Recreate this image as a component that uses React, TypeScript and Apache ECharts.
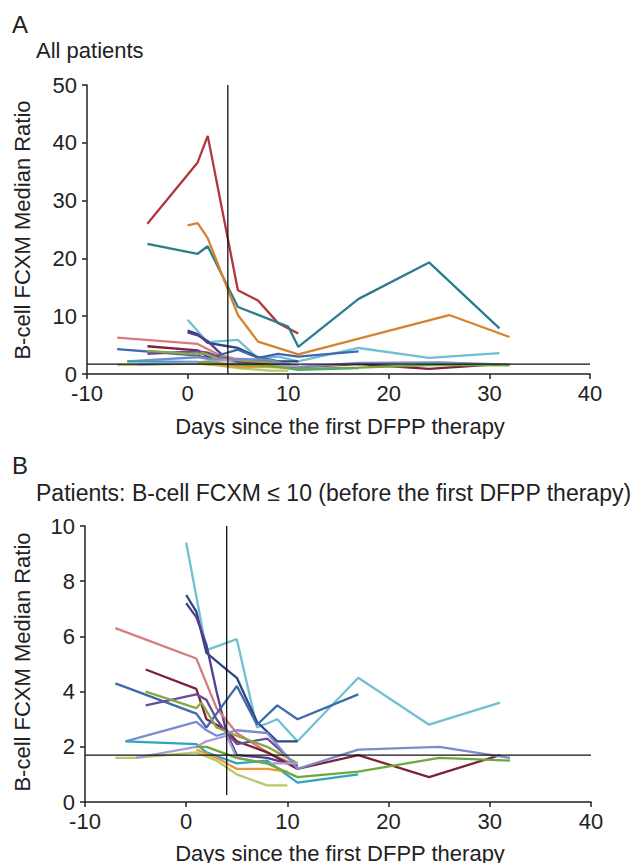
import React, { useEffect, useRef } from "react";
import * as echarts from "echarts";

// ---- data: [day since first DFPP, B-cell FCXM median ratio] ----
const lightCyan = [[0, 9.4], [2, 5.5], [5, 5.9], [7, 2.7], [9, 3.0], [11, 2.2], [17, 4.5], [24, 2.8], [31, 3.6]];
const navy = [[0, 7.5], [1, 6.9], [2, 5.4], [4, 4.8], [5, 4.5], [7, 2.9], [9, 2.2], [11, 2.2]];
const purpleDark = [[0, 7.2], [1, 6.7], [2, 5.7], [3, 4.0], [4, 2.5], [5, 1.7], [8, 1.6], [11, 1.3]];
const pink = [[-7, 6.3], [1, 5.2], [3, 3.4], [5, 2.5], [8, 1.8], [11, 1.3]];
const maroon = [[-4, 4.8], [1, 4.1], [2, 3.0], [4, 2.6], [5, 2.2], [8, 1.8], [11, 1.2], [17, 1.7], [24, 0.9], [31, 1.7]];
const blue = [[-7, 4.3], [1, 3.2], [2, 2.7], [3, 3.2], [5, 4.2], [7, 2.8], [9, 3.5], [11, 3.0], [17, 3.9]];
const purple = [[-4, 3.5], [1, 3.9], [2, 3.7], [3, 3.0], [4, 2.5], [5, 2.1], [8, 2.3], [11, 1.3]];
const olive = [[-4, 4.0], [1, 3.4], [1.5, 3.6], [2, 3.3], [3, 2.7], [5, 2.4], [8, 2.0], [11, 1.4]];
const periwinkle = [[-6, 2.2], [1, 2.9], [2, 2.6], [3, 2.4], [5, 2.6], [8, 2.5], [11, 1.2], [17, 1.9], [25, 2.0], [32, 1.6]];
const teal = [[-6, 2.2], [1, 2.1], [2, 1.8], [5, 1.4], [8, 1.5], [11, 0.7], [17, 1.0]];
const yellowGreen = [[-7, 1.6], [-5, 1.6], [1, 1.8], [3, 1.5], [5, 1.0], [8, 0.6], [10, 0.6]];
const lavender = [[-5, 1.6], [1, 2.0], [2, 2.2], [4, 2.4], [5, 1.6], [8, 1.4], [11, 1.4]];
const orange = [[1, 1.9], [3, 1.6], [5, 1.2], [8, 1.2], [10, 1.1]];
const green = [[1, 2.0], [2, 2.0], [5, 1.6], [8, 1.4], [11, 0.9], [17, 1.1], [25, 1.6], [32, 1.5]];
// patients above 10 before the first DFPP (panel A only)
const red = [[-4, 26], [1, 36.6], [2, 41.2], [5, 14.5], [7, 12.7], [9, 8.8], [11, 7.0]];
const darkTeal = [[-4, 22.5], [1, 20.8], [2, 22.1], [5, 11.6], [10, 8.2], [11, 4.7], [17, 13], [24, 19.3], [31, 7.9]];
const orangeBrown = [[0, 25.7], [1, 26.1], [2, 23.5], [5, 10.2], [7, 5.6], [11, 3.4], [26, 10.2], [32, 6.4]];

const lowPatients = [
  { data: lightCyan, color: "#72bfd4" },
  { data: navy, color: "#2f4684" },
  { data: purpleDark, color: "#553d91" },
  { data: pink, color: "#d67c7f" },
  { data: maroon, color: "#7d2436" },
  { data: blue, color: "#3d69ad" },
  { data: purple, color: "#6a4c9c" },
  { data: olive, color: "#8ba646" },
  { data: periwinkle, color: "#7c8bcd" },
  { data: teal, color: "#2fa4c0" },
  { data: yellowGreen, color: "#b5ca66" },
  { data: lavender, color: "#a99bd3" },
  { data: orange, color: "#e9993c" },
  { data: green, color: "#6fa83e" },
];
const highPatients = [
  { data: red, color: "#b5353e" },
  { data: darkTeal, color: "#2a7e8c" },
  { data: orangeBrown, color: "#d6832d" },
];

const cutDay = 4;
const cutRatio = 1.7;
const xRange = [-10, 40];
const yMaxA = 50;
const yMaxB = 10;

const titleA = "All patients";
const titleB = "Patients: B-cell FCXM \u2264 10 (before the first DFPP therapy)";
const xName = "Days since the first DFPP therapy";
const yName = "B-cell FCXM Median Ratio";

const FONT = "Liberation Sans, Arial, Helvetica, sans-serif";
const FS = 22;

export default function App() {
  const ref = useRef<HTMLDivElement>(null);
  useEffect(() => {
    const chart = echarts.init(ref.current!, null, { renderer: "svg" });
    const axisCommon = {
      axisLine: { show: true, onZero: false, lineStyle: { color: "#222", width: 1.5 } },
      axisTick: { show: true, length: 5, lineStyle: { color: "#222", width: 1.5 } },
      splitLine: { show: false },
      axisLabel: { color: "#222", fontSize: FS, fontFamily: FONT, margin: 10 },
    };
    const mkLine = (d: number[][], color: string, axis: number) => ({
      type: "line",
      xAxisIndex: axis,
      yAxisIndex: axis,
      data: d,
      showSymbol: false,
      symbol: "none",
      lineStyle: { color, width: 2.3 },
      silent: true,
    });
    const series: any[] = [];
    lowPatients.forEach((p) => series.push(mkLine(p.data, p.color, 0)));
    highPatients.forEach((p) => series.push(mkLine(p.data, p.color, 0)));
    lowPatients.forEach((p) => series.push(mkLine(p.data, p.color, 1)));
    // reference lines
    const refStyle = { color: "#111", width: 1.3 };
    series.push({ ...mkLine([[cutDay, 0], [cutDay, yMaxA]], "#111", 0), lineStyle: refStyle });
    series.push({ ...mkLine([[xRange[0], cutRatio], [xRange[1], cutRatio]], "#111", 0), lineStyle: refStyle });
    series.push({ ...mkLine([[cutDay, 0.25], [cutDay, yMaxB]], "#111", 1), lineStyle: refStyle });
    series.push({ ...mkLine([[xRange[0], cutRatio], [xRange[1], cutRatio]], "#111", 1), lineStyle: refStyle });

    const textStyle = (size: number) => ({ fill: "#222", fontSize: size, fontFamily: FONT });

    chart.setOption({
      animation: false,
      backgroundColor: "#fff",
      grid: [
        { left: 87, top: 85, width: 503, height: 289 },
        { left: 85, top: 526, width: 506, height: 276 },
      ],
      xAxis: [0, 1].map((i) => ({
        type: "value",
        gridIndex: i,
        min: xRange[0],
        max: xRange[1],
        interval: 10,
        ...axisCommon,
        axisLabel: { ...axisCommon.axisLabel, margin: 8 },
      })),
      yAxis: [
        { type: "value", gridIndex: 0, min: 0, max: yMaxA, interval: 10, ...axisCommon },
        { type: "value", gridIndex: 1, min: 0, max: yMaxB, interval: 2, ...axisCommon },
      ],
      series,
      graphic: [
        { type: "text", left: 12, top: 12, style: { text: "A", ...textStyle(24) } },
        { type: "text", left: 36, top: 39, style: { text: titleA, ...textStyle(FS) } },
        { type: "text", left: 12, top: 453, style: { text: "B", ...textStyle(24) } },
        { type: "text", left: 36, top: 481, style: { text: titleB, ...textStyle(23) } },
        {
          type: "text", x: 340, y: 426,
          style: { text: xName, ...textStyle(FS), align: "center", verticalAlign: "middle" },
        },
        {
          type: "text", x: 340, y: 853,
          style: { text: xName, ...textStyle(FS), align: "center", verticalAlign: "middle" },
        },
        {
          type: "text", x: 22, y: 230, rotation: Math.PI / 2,
          style: { text: yName, ...textStyle(FS), align: "center", verticalAlign: "middle" },
        },
        {
          type: "text", x: 22, y: 662, rotation: Math.PI / 2,
          style: { text: yName, ...textStyle(FS), align: "center", verticalAlign: "middle" },
        },
      ],
    });
    return () => chart.dispose();
  }, []);
  return (
    <div
      ref={ref}
      style={{ position: "fixed", left: 0, top: 0, width: 639, height: 863, background: "#fff" }}
    />
  );
}
